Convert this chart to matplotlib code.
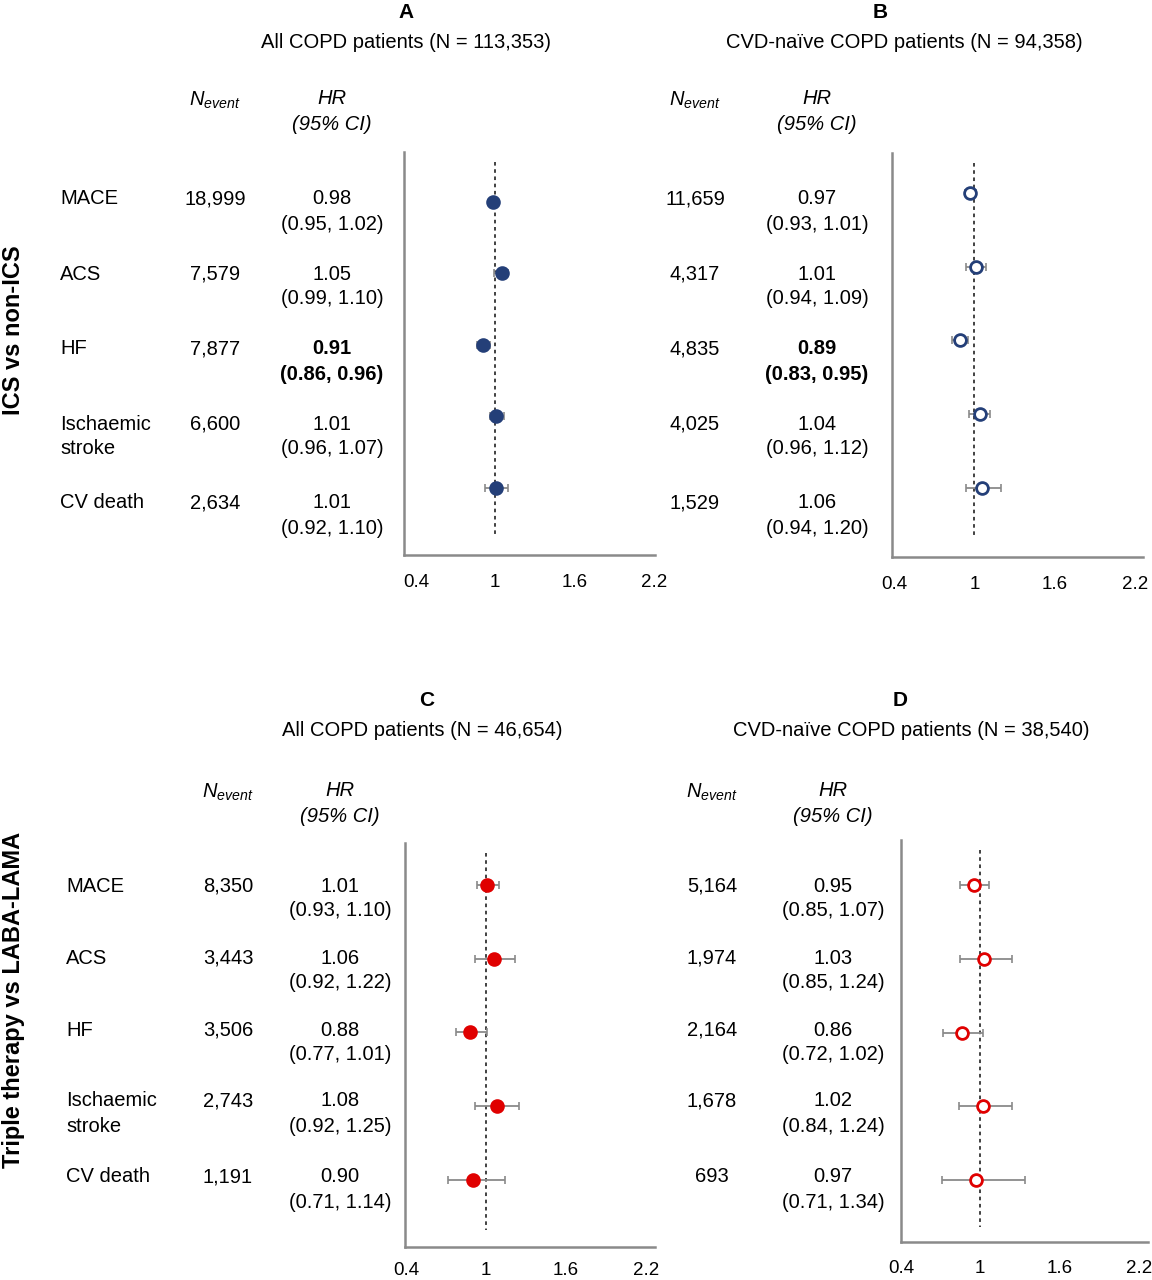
import matplotlib
matplotlib.use("Agg")
import matplotlib.pyplot as plt

plt.rcParams['font.family'] = ['Liberation Sans', 'DejaVu Sans']
plt.rcParams['mathtext.fontset'] = 'custom'
plt.rcParams['mathtext.it'] = 'Liberation Sans:italic'
plt.rcParams['mathtext.rm'] = 'Liberation Sans'

W, H = 1152, 1280

# data
outcomes = ["MACE", "ACS", "HF", "Ischaemic\nstroke", "CV death"]

n_a = ["18,999", "7,579", "7,877", "6,600", "2,634"]
hr_a = [0.98, 1.05, 0.91, 1.01, 1.01]
lo_a = [0.95, 0.99, 0.86, 0.96, 0.92]
hi_a = [1.02, 1.10, 0.96, 1.07, 1.10]

n_b = ["11,659", "4,317", "4,835", "4,025", "1,529"]
hr_b = [0.97, 1.01, 0.89, 1.04, 1.06]
lo_b = [0.93, 0.94, 0.83, 0.96, 0.94]
hi_b = [1.01, 1.09, 0.95, 1.12, 1.20]

n_c = ["8,350", "3,443", "3,506", "2,743", "1,191"]
hr_c = [1.01, 1.06, 0.88, 1.08, 0.90]
lo_c = [0.93, 0.92, 0.77, 0.92, 0.71]
hi_c = [1.10, 1.22, 1.01, 1.25, 1.14]

n_d = ["5,164", "1,974", "2,164", "1,678", "693"]
hr_d = [0.95, 1.03, 0.86, 1.02, 0.97]
lo_d = [0.85, 0.85, 0.72, 0.84, 0.71]
hi_d = [1.07, 1.24, 1.02, 1.24, 1.34]

xticks = [0.4, 1, 1.6, 2.2]
xtick_labels = ["0.4", "1", "1.6", "2.2"]

navy = "#243f78"
red = "#e00000"
grey = "#8a8a8a"
FS = 14.5

fig = plt.figure(figsize=(W / 100, H / 100), dpi=100)


def put(x, y, s, **kw):
    kw.setdefault("ha", "center")
    kw.setdefault("va", "center")
    kw.setdefault("fontsize", FS)
    fig.text(x / W, 1 - y / H, s, **kw)


def panel(letter, subtitle, letter_x, sub_x, top_y, label_x, n_x, hr_x, row_y, head_y,
          ns, hr, lo, hi, color, filled, box, xlim, ylim, dash, pad):
    put(letter_x, top_y, letter, fontweight="bold", fontsize=15)
    put(sub_x, top_y + 30, subtitle)
    if label_x is not None:
        for lab, y in zip(outcomes, row_y):
            put(label_x, y, lab.split("\n")[0], ha="left")
            if "\n" in lab:
                put(label_x, y + 25, lab.split("\n")[1], ha="left")
    put(n_x, head_y + 2, r"$N_{event}$")
    put(hr_x, head_y, "HR", style="italic")
    put(hr_x, head_y + 26, "(95% CI)", style="italic")
    for i, y in enumerate(row_y):
        sig = hi[i] < 1 or lo[i] > 1
        fw = "bold" if sig else "normal"
        put(n_x, y, ns[i])
        put(hr_x, y, f"{hr[i]:.2f}", fontweight=fw)
        put(hr_x, y + 25, f"({lo[i]:.2f}, {hi[i]:.2f})", fontweight=fw)

    x0, x1, y0, y1 = box
    ax = fig.add_axes([x0 / W, 1 - y1 / H, (x1 - x0) / W, (y1 - y0) / H])
    ax.set_xlim(*xlim)
    ax.set_ylim(*ylim)
    ax.vlines(1, dash[0], dash[1], colors="#333333", linestyles=(0, (2, 2)), lw=1.3)
    rows = list(range(len(hr)))
    xerr = [[h - l for h, l in zip(hr, lo)], [u - h for h, u in zip(hr, hi)]]
    ax.errorbar(hr, rows, xerr=xerr, fmt="none", ecolor=grey, elinewidth=1.3,
                capsize=3, capthick=1.2, zorder=2)
    ax.plot(hr, rows, "o", ms=8.5, mec=color, mew=2,
            mfc=color if filled else "white", zorder=3)
    for s in ["top", "right"]:
        ax.spines[s].set_visible(False)
    for s in ["left", "bottom"]:
        ax.spines[s].set_color(grey)
        ax.spines[s].set_linewidth(1.8)
    ax.set_yticks([])
    ax.set_xticks(xticks)
    ax.set_xticklabels(xtick_labels, fontsize=13.5)
    ax.tick_params(axis="x", length=0, pad=pad)
    return ax


rows_top = [199, 274, 349, 424, 503]
rows_bot = [886, 958, 1030, 1101, 1177]

panel("A", "All COPD patients (N = 113,353)", 406, 406, 12, 60, 215, 332, rows_top, 98,
      n_a, hr_a, lo_a, hi_a, navy, True, (404, 655, 152, 555),
      (0.31, 2.21), (4.94, -0.70), (-0.56, 4.69), 14)
panel("B", "CVD-na\u00efve COPD patients (N = 94,358)", 880, 904, 12, None, 695, 817, rows_top, 98,
      n_b, hr_b, lo_b, hi_b, navy, False, (892, 1143, 153, 557),
      (0.385, 2.26), (4.94, -0.54), (-0.41, 4.68), 14)
panel("C", "All COPD patients (N = 46,654)", 427, 422, 700, 66, 228, 340, rows_bot, 790,
      n_c, hr_c, lo_c, hi_c, red, True, (405, 655, 843, 1247),
      (0.39, 2.27), (4.91, -0.57), (-0.43, 4.68), 11)
panel("D", "CVD-na\u00efve COPD patients (N = 38,540)", 900, 911, 700, None, 712, 833, rows_bot, 790,
      n_d, hr_d, lo_d, hi_d, red, False, (901, 1148, 840, 1242),
      (0.41, 2.27), (4.84, -0.61), (-0.47, 4.64), 13)

put(14, 330, "ICS vs non-ICS", rotation=90, fontweight="bold", fontsize=17)
put(14, 1000, "Triple therapy vs LABA-LAMA", rotation=90, fontweight="bold", fontsize=17)

fig.savefig("out.png", dpi=100)
